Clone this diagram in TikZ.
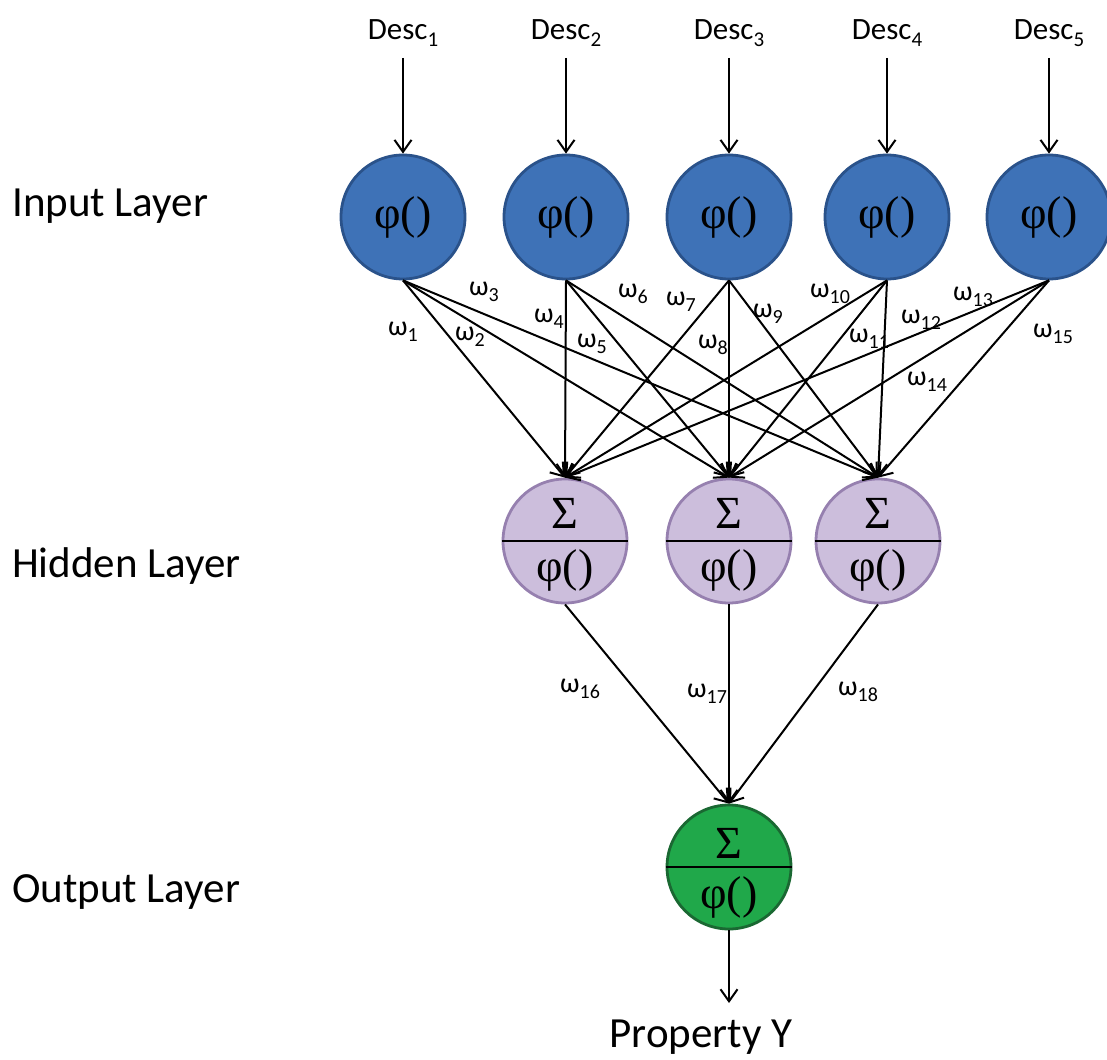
\documentclass[tikz,border=0pt]{standalone}
\usepackage{fontspec}
\setmainfont{Carlito}
\newfontfamily\greekserif{Liberation Serif}
\usetikzlibrary{arrows.meta}

\definecolor{inblue}{RGB}{62,114,183}
\definecolor{inblueedge}{RGB}{42,82,138}
\definecolor{hidfill}{RGB}{204,190,220}
\definecolor{hidedge}{RGB}{150,128,175}
\definecolor{outfill}{RGB}{32,168,74}
\definecolor{outedge}{RGB}{26,104,50}

% weight and descriptor labels with lowered indices
\newcommand{\wlabel}[1]{ω\raisebox{-6pt}{\fontsize{20pt}{20pt}\selectfont #1}}
\newcommand{\desclabel}[1]{Desc\raisebox{-7pt}{\fontsize{21pt}{21pt}\selectfont #1}}

\begin{document}
\begin{tikzpicture}[x=1pt,y=-1pt,
  neuron/.style={circle, minimum size=124pt, inner sep=0pt, line width=2.8pt},
  innode/.style={neuron, fill=inblue, draw=inblueedge,
    font=\greekserif\fontsize{46pt}{46pt}\selectfont},
  hidnode/.style={neuron, fill=hidfill, draw=hidedge},
  outnode/.style={neuron, fill=outfill, draw=outedge},
  sym/.style={inner sep=0pt, font=\greekserif\fontsize{46pt}{46pt}\selectfont},
  divider/.style={line width=2pt, black},
  link/.style={line width=2pt, -{Straight Barb[length=12pt,width=17pt]}},
  wt/.style={anchor=base west, inner sep=0pt, font=\fontsize{28pt}{28pt}\selectfont},
  desc/.style={anchor=base, inner sep=0pt, font=\fontsize{31pt}{31pt}\selectfont},
  layer/.style={anchor=base west, inner sep=0pt, font=\fontsize{43pt}{43pt}\selectfont},
]
\useasboundingbox (0,0) rectangle (1107,1059);

% layer captions
\node[layer] (capin)  at (12,217) {Input Layer};
\node[layer] (caphid) at (12,577) {Hidden Layer};
\node[layer] (capout) at (12,902) {Output Layer};

% input layer
\foreach \i/\x in {1/403,2/566,3/729,4/887,5/1049}{
  \node[innode] (in\i) at (\x,217) {φ()};
  \node[desc] (desc\i) at (\x,40) {\desclabel{\i}};
  \coordinate (dstart\i) at (\x,58);
  \draw[link] (dstart\i) -- (in\i);
}

% hidden layer
\foreach \j/\x in {1/565,2/729,3/878}{
  \node[hidnode] (h\j) at (\x,541) {};
  \draw[divider] (h\j.west) -- (h\j.east);
  \node[sym] (hsum\j) at ([yshift=28pt]h\j.center) {Σ};
  \node[sym] (hphi\j) at ([yshift=-29pt]h\j.center) {φ()};
}

% output layer
\node[outnode] (out) at (729,867) {};
\draw[divider] (out.west) -- (out.east);
\node[sym] (osum) at ([yshift=24pt]out.center) {Σ};
\node[sym] (ophi) at ([yshift=-30pt]out.center) {φ()};

% connections
\foreach \i in {1,...,5}{
  \foreach \j in {1,2,3}{
    \draw[link] (in\i.south) -- (h\j.north);
  }
}
\foreach \j in {1,2,3}{
  \draw[link] (h\j.south) -- (out.north);
}
\coordinate (yend) at (729,1003);
\draw[link] (out.south) -- (yend);
\node[layer, anchor=base] (prop) at (701,1047) {Property Y};

% weights
\node[wt] (w1)  at (388,335) {\wlabel{1}};
\node[wt] (w2)  at (455,340) {\wlabel{2}};
\node[wt] (w3)  at (469,295) {\wlabel{3}};
\node[wt] (w4)  at (534,322) {\wlabel{4}};
\node[wt] (w5)  at (577,347) {\wlabel{5}};
\node[wt] (w6)  at (618,297) {\wlabel{6}};
\node[wt] (w7)  at (666,305) {\wlabel{7}};
\node[wt] (w8)  at (698,348) {\wlabel{8}};
\node[wt] (w9)  at (753,317) {\wlabel{9}};
\node[wt] (w10) at (810,297) {\wlabel{10}};
\node[wt] (w11) at (849,342) {\wlabel{11}};
\node[wt] (w12) at (901,323) {\wlabel{12}};
\node[wt] (w13) at (953,300) {\wlabel{13}};
\node[wt] (w14) at (907,385) {\wlabel{14}};
\node[wt] (w15) at (1033,337) {\wlabel{15}};
\node[wt] (w16) at (560,692) {\wlabel{16}};
\node[wt] (w17) at (687,697) {\wlabel{17}};
\node[wt] (w18) at (838,695) {\wlabel{18}};
\end{tikzpicture}
\end{document}
